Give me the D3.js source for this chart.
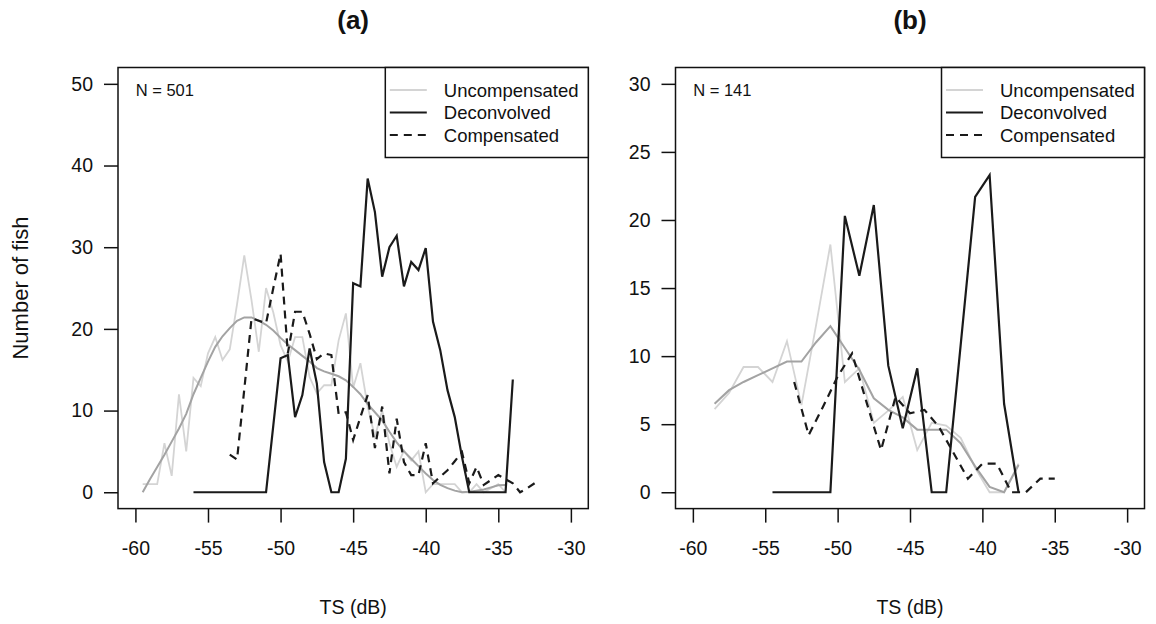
<!DOCTYPE html>
<html>
<head>
<meta charset="utf-8">
<script src="https://cdn.jsdelivr.net/npm/d3@7/dist/d3.min.js"></script>
<style>
body { margin: 0; background: #fff; }
svg text { font-family: "Liberation Sans", Arial, sans-serif; fill: #111; }
</style>
</head>
<body>
<div id="charts"></div>
<script>
// panel (a), N = 501
var aRawTS = [-59.5,-59,-58.5,-58,-57.5,-57,-56.5,-56,-55.5,-55,-54.5,-54,-53.5,-53,-52.5,-52,-51.5,-51,-50.5,-50,-49.5,-49,-48.5,-48,-47.5,-47,-46.5,-46,-45.5,-45,-44.5,-44,-43.5,-43,-42.5,-42,-41.5,-41,-40.5,-40,-39.5,-39,-38.5,-38,-37.5,-37,-36.5,-36,-35.5,-35,-34.5];
var aRawN = [1,1,1,6,2,12,5,14,13,17,19,16.2,17.5,23,29,23.5,17.2,25,22,18,16,19,19,14.1,12.1,13.1,13.1,18.6,21.9,12.8,15.8,10.5,6.8,10,6,3.1,5.1,3.9,5,0,1,1,1,1,0,0,1,0,0.5,1,0];
var aSmoothN = [0,1.6,3.1,4.6,6.2,7.8,9.6,12,14,16,17.8,19.1,20.1,21,21.4,21.4,21,20.5,19.8,18.9,18.1,17.4,16.7,16,15.2,14.8,14.5,14.2,13.7,12.9,12,10.8,9.8,8.8,7.4,6.1,5,4.1,3.2,2.3,1.5,0.9,0.5,0.2,0,0.05,0.2,0.35,0.6,0.85,0.9];
var aDeconTS = [-56,-55.5,-55,-54.5,-54,-53.5,-53,-52.5,-52,-51.5,-51,-50.5,-50,-49.5,-49,-48.5,-48,-47.5,-47,-46.5,-46,-45.5,-45,-44.5,-44,-43.5,-43,-42.5,-42,-41.5,-41,-40.5,-40,-39.5,-39,-38.5,-38,-37.5,-37,-36.5,-36,-35.5,-35,-34.5,-34];
var aDeconN = [0,0,0,0,0,0,0,0,0,0,0,8.2,16.4,16.8,9.2,11.9,17.6,13.3,3.7,0,0,4.1,25.6,25.2,38.4,34.3,26.4,30,31.4,25.2,28.2,27.2,29.9,20.9,17.4,12.5,9.2,4.3,0,0,0,0,0,0,13.8];
var aCompTS = [-53.5,-53,-52.5,-52,-51.5,-51,-50.5,-50,-49.5,-49,-48.5,-48,-47.5,-47,-46.5,-46,-45.5,-45,-44.5,-44,-43.5,-43,-42.5,-42,-41.5,-41,-40.5,-40,-39.5,-39,-38.5,-38,-37.5,-37,-36.5,-36,-35.5,-35,-34.5,-34,-33.5,-33,-32.5];
var aCompN = [4.6,4,12.6,21.3,21,20.7,25,29.2,17,22.1,22.1,19.4,16.3,17,16.8,9.6,9.8,6.4,9.2,11.9,5.4,10.5,2.3,9,3.7,2.1,2.1,6,1.1,1.9,2.7,3.8,4.9,1.1,3.1,0.9,1.5,2.1,1.6,1.1,0,0.5,1.1];

// panel (b), N = 141
var bRawTS = [-58.5,-57.5,-56.5,-55.5,-54.5,-53.5,-52.5,-51.5,-50.5,-49.5,-48.5,-47.5,-46.5,-45.5,-44.5,-43.5,-42.5,-41.5,-40.5,-39.5,-38.5,-37.5];
var bRawN = [6.1,7.3,9.2,9.2,8.1,11.1,6.4,12.2,18.2,8.1,9.1,5.1,6,7,3.1,5.1,4.9,4,1.8,0,0,2.1];
var bSmoothN = [6.5,7.5,8.1,8.6,9.1,9.6,9.6,11,12.2,10.6,9,6.9,6.05,5.5,4.6,4.6,4.6,3.6,1.9,0.4,0,2];
var bDeconTS = [-54.5,-53.5,-52.5,-51.5,-50.5,-49.5,-48.5,-47.5,-46.5,-45.5,-44.5,-43.5,-42.5,-41.5,-40.5,-39.5,-38.5,-37.5];
var bDeconN = [0,0,0,0,0,20.3,15.9,21.1,9.3,4.7,9.1,0,0,10.8,21.7,23.3,6.5,0];
var bCompTS = [-53,-52,-51,-50,-49,-48,-47,-46,-45,-44,-43,-42,-41,-40,-39,-38,-37,-36,-35];
var bCompN = [8.1,4.2,6.3,8.5,10.2,6.6,3.1,7,5.8,6.05,4.8,2.9,1,2.1,2.1,0,0,1,1];

var xTicks = [-60,-55,-50,-45,-40,-35,-30];
var legendLabels = ['Uncompensated','Deconvolved','Compensated'];

var top_y = 67.5, bottom_y = 508.6;

var svg = d3.select('#charts').append('svg')
    .attr('width', 1156)
    .attr('height', 624);

svg.append('text')
    .attr('transform', `translate(22,288) rotate(-90)`)
    .attr('text-anchor', 'middle')
    .attr('dominant-baseline', 'middle')
    .style('font-size', '22px')
    .text('Number of fish');

function plot(left, right, ymax, yStep, title, nText, raw, smooth, decon, comp) {
    var x = d3.scaleLinear()
        .domain([-61.2, -28.8])
        .range([left, right]);
    var y = d3.scaleLinear()
        .domain([-ymax*0.04, ymax*1.04])
        .range([bottom_y, top_y]);

    var g = svg.append('g');

    g.append('g')
        .attr('transform', `translate(0,${bottom_y})`)
        .call(d3.axisBottom(x).tickValues(xTicks).tickSize(14).tickPadding(19).tickFormat(d => String(d)))
        .call(a => a.select('.domain').remove())
        .call(a => a.selectAll('line').attr('stroke', '#111').attr('stroke-width', 1.5))
        .call(a => a.selectAll('text').style('font-size', '19.5px').attr('font-family', null));

    g.append('g')
        .attr('transform', `translate(${left},0)`)
        .call(d3.axisLeft(y).tickValues(d3.range(0, ymax + 1, yStep)).tickSize(14).tickPadding(11))
        .call(a => a.select('.domain').remove())
        .call(a => a.selectAll('line').attr('stroke', '#111').attr('stroke-width', 1.5))
        .call(a => a.selectAll('text').style('font-size', '19.5px').attr('font-family', null));

    var line = d3.line()
        .x(d => x(d[0]))
        .y(d => y(d[1]));

    g.append('path')
        .datum(d3.zip(raw[0], raw[1]))
        .attr('d', line)
        .attr('fill', 'none')
        .attr('stroke', '#d4d4d4')
        .attr('stroke-width', 1.8);

    g.append('path')
        .datum(d3.zip(raw[0], smooth))
        .attr('d', line)
        .attr('fill', 'none')
        .attr('stroke', '#a3a3a3')
        .attr('stroke-width', 2);

    g.append('path')
        .datum(d3.zip(decon[0], decon[1]))
        .attr('d', line)
        .attr('fill', 'none')
        .attr('stroke', '#1a1a1a')
        .attr('stroke-width', 2.2);

    g.append('path')
        .datum(d3.zip(comp[0], comp[1]))
        .attr('d', line)
        .attr('fill', 'none')
        .attr('stroke', '#1a1a1a')
        .attr('stroke-width', 2.2)
        .attr('stroke-dasharray', '8,6');

    g.append('rect')
        .attr('x', left)
        .attr('y', top_y)
        .attr('width', right - left)
        .attr('height', bottom_y - top_y)
        .attr('fill', 'none')
        .attr('stroke', '#111')
        .attr('stroke-width', 1.5);

    // legend, top right corner
    var lg = g.append('g').attr('transform', `translate(${right - 203},${top_y})`);
    lg.append('rect')
        .attr('width', 203)
        .attr('height', 90)
        .attr('fill', '#fff')
        .attr('stroke', '#111')
        .attr('stroke-width', 1.5);
    var styles = [['#d4d4d4', null], ['#1a1a1a', null], ['#1a1a1a', '8,6']];
    legendLabels.forEach(function (lab, i) {
        var yy = 22.5 + i * 22.5;
        lg.append('line')
            .attr('x1', 4.5).attr('x2', 41.5)
            .attr('y1', yy).attr('y2', yy)
            .attr('stroke', styles[i][0])
            .attr('stroke-width', 2.2)
            .attr('stroke-dasharray', styles[i][1]);
        lg.append('text')
            .attr('x', 58.5)
            .attr('y', yy)
            .attr('dominant-baseline', 'central')
            .style('font-size', '18.5px')
            .text(lab);
    });

    g.append('text')
        .attr('x', left + 17.7)
        .attr('y', 90)
        .attr('dominant-baseline', 'central')
        .style('font-size', '16.5px')
        .text(nText);

    g.append('text')
        .attr('x', (left + right) / 2)
        .attr('y', 20)
        .attr('text-anchor', 'middle')
        .attr('dominant-baseline', 'central')
        .style('font-size', '26px')
        .style('font-weight', 'bold')
        .text(title);

    g.append('text')
        .attr('x', (left + right) / 2)
        .attr('y', 607)
        .attr('text-anchor', 'middle')
        .attr('dominant-baseline', 'central')
        .style('font-size', '19.5px')
        .text('TS (dB)');
}

plot(118, 588.3, 50, 10, '(a)', 'N = 501', [aRawTS, aRawN], aSmoothN, [aDeconTS, aDeconN], [aCompTS, aCompN]);
plot(675.5, 1144.5, 30, 5, '(b)', 'N = 141', [bRawTS, bRawN], bSmoothN, [bDeconTS, bDeconN], [bCompTS, bCompN]);
</script>
</body>
</html>
